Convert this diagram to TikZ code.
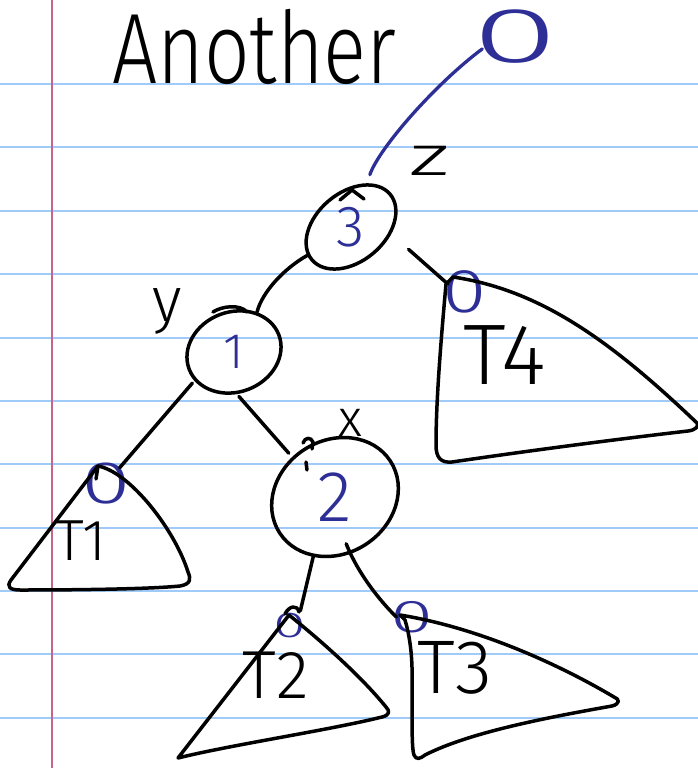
\documentclass[tikz,border=0pt]{standalone}
\usepackage{fontspec}
\usetikzlibrary{shapes.geometric}
\newfontfamily\handL{Fira Sans Light}
\definecolor{inkblue}{RGB}{45,47,150}
\definecolor{ruleblue}{RGB}{160,203,248}
\definecolor{marginred}{RGB}{198,100,140}
\newcommand{\fsz}[1]{\fontsize{#1}{#1}\selectfont}
% centred blue zero of no size: font size, x-scale, rotation
\newcommand{\zz}[3]{\makebox[0pt]{\raisebox{\dimexpr(\depth-\height)/2\relax}[0pt][0pt]{\rotatebox{#3}{\handL\fsz{#1}\scalebox{#2}[1]{0}}}}}
\begin{document}
\begin{tikzpicture}[x=1pt,y=-1pt,
  ink/.style={draw=black, line width=3.5pt, line cap=round, line join=round},
  bink/.style={draw=inkblue, line width=3.3pt, line cap=round, line join=round},
  circ/.style={ellipse, ink, inner sep=0pt, text=inkblue},
  zero/.style={rectangle, inner sep=0pt, text=inkblue},
  lab/.style={inner sep=0pt, text=black},
  paperrule/.style={draw=ruleblue, line width=2pt},
  marginline/.style={draw=marginred, line width=2.2pt}]
\useasboundingbox (0,0) rectangle (698,768);
\fill[white] (0,0) rectangle (698,768);
% lined paper
\foreach \yy in {84,147,211,274,338,401,464,528,591,654,718}
  \draw[paperrule] (0,\yy) -- (698,\yy);
\draw[marginline] (52,0) -- (52,768);

% title
\node[lab, anchor=base west, font=\handL\fsz{100}] (title) at (112,83) {\scalebox{0.8}[1]{Another}};

% tree nodes
\node[circ, minimum width=102pt, minimum height=68pt, rotate=40] (n3) at (351,227) {\rotatebox{-40}{\handL\fsz{58}3}};
\node[circ, minimum width=96pt, minimum height=80pt, rotate=21] (n1) at (234,352) {\rotatebox{-21}{\handL\fsz{50}1}};
\node[circ, minimum width=132pt, minimum height=113pt, rotate=33] (n2) at (335,497) {\rotatebox{-33}{\handL\fsz{72}2}};

% blue zeros
\node[zero, minimum width=65pt, minimum height=47pt] (r0) at (515,37) {\zz{78}{2.0}{0}};
\node[zero, minimum width=35pt, minimum height=32pt] (z1) at (106,484) {\zz{60}{1.5}{0}};
\node[zero, minimum width=34pt, minimum height=36pt] (z4) at (465,292) {\zz{62}{1.3}{0}};
\node[zero, minimum width=25pt, minimum height=22pt] (z2) at (290,626) {\zz{36}{1.65}{0}};
\node[zero, minimum width=31pt, minimum height=26pt] (z3) at (412,617) {\zz{46}{1.7}{0}};

% letter labels
\node[lab, font=\handL\fsz{56}] (lz) at (430,161) {\scalebox{1.7}[1]{z}};
\node[lab, font=\handL\fsz{52}] (lx) at (350,423) {x};
\node[lab, font=\handL\fsz{63}, anchor=base] (ly) at (167,321) {y};

% subtree labels
\node[lab, font=\handL\fsz{58}] (lt1) at (81,541) {T1};
\node[lab, font=\handL\fsz{86}] (lt4) at (505,355) {T4};
\node[lab, font=\handL\fsz{68}] (lt2) at (276,675) {T2};
\node[lab, font=\handL\fsz{76}] (lt3) at (455,668) {T3};

% subtree apexes
\coordinate (t1) at (98,466);
\coordinate (t4) at (446,284);
\coordinate (t2) at (289,615);
\coordinate (t3) at (400,615);

% subtrees
\draw[ink] (t1) -- (11,580) .. controls (6,587) and (10,590) .. (20,590)
  .. controls (80,590) and (150,589) .. (180,586)
  .. controls (191,584) and (191,579) .. (188,572)
  .. controls (175,530) and (130,472) .. (t1);
\draw[ink] (t1) -- ++(-2,13);
\draw[ink] (t4) .. controls (441,340) and (436,400) .. (436,445)
  .. controls (436,458) and (441,463) .. (452,462)
  .. controls (520,452) and (610,440) .. (688,431)
  .. controls (696,430) and (699,426) .. (697,423)
  .. controls (610,340) and (540,290) .. (453,277) -- (t4);
\draw[ink] (t2) -- (178,758) .. controls (230,745) and (330,730) .. (382,717)
  .. controls (390,715) and (390,711) .. (386,707)
  .. controls (360,675) and (320,640) .. (t2);
\draw[ink] (t3) -- (405,620) .. controls (414,650) and (412,680) .. (412,700)
  .. controls (412,730) and (412,750) .. (414,755)
  .. controls (416,760) and (420,759) .. (425,755)
  .. controls (470,732) and (550,717) .. (612,706)
  .. controls (620,704) and (620,699) .. (614,697)
  .. controls (560,665) and (480,628) .. (t3);

% connectors
\draw[bink, shorten <=9pt] (n3.30) .. controls +(12,-35) and +(-47,35) .. (r0.200);
\draw[ink] (n3.173) .. controls +(-23,13) and +(5,-20) .. (n1.39);
\draw[ink, shorten <=23pt] (n3.310) -- (z4.155);
\draw[ink, shorten <=3pt] (n1.195) -- (z1.50);
\draw[ink, shorten <=3pt, shorten >=5pt] (n1.253) -- (n2.104);
\draw[ink, shorten >=4pt] (n2.217) -- (z2.50);
\draw[ink, shorten <=-11pt] (n2.252) .. controls +(8,20) and +(-17,-17) .. (z3.west);

% pen marks
\draw[ink] (340,200) -- (352,190) -- (364,199);
\draw[ink] (213,312) .. controls (222,306) and (240,304) .. (247,312);
\draw[ink] (303,443) .. controls (305,437) and (311,437) .. (313,442) -- (312,449);
\draw[ink] (306,462) -- (307,470);
\draw[ink] (285,614) .. controls (289,606) and (297,604) .. (299,612);
\end{tikzpicture}
\end{document}
